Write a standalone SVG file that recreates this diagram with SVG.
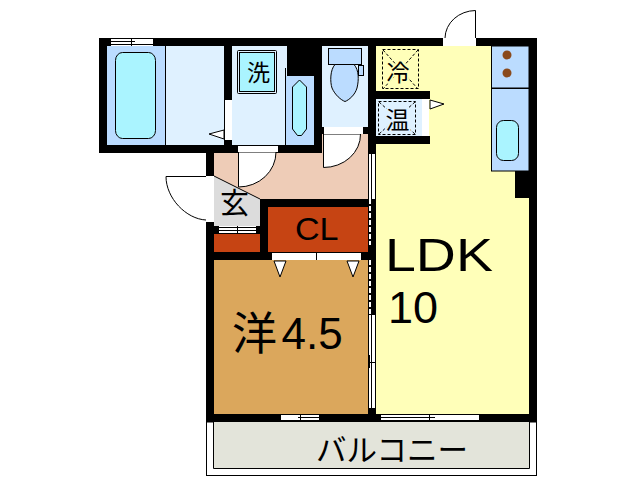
<svg xmlns="http://www.w3.org/2000/svg" width="638" height="480" viewBox="0 0 638 480">
<style>
.w{fill:#000}
.o{stroke:#000;stroke-width:1;fill:none}
.s{stroke:#000;stroke-width:1;fill:#fff}
.win{fill:#fff;stroke:none}
.d{stroke:#000;stroke-width:1;stroke-dasharray:3 2;fill:none}
text{font-family:"Liberation Sans","Noto Sans CJK JP",sans-serif;fill:#000}
.j{font-family:"Noto Sans CJK JP","Liberation Sans",sans-serif}
.lb{fill:#bbdcff}
.lc{fill:#dff1ff}
.cy{fill:#aaf4ff;stroke:#000;stroke-width:1}
</style>
<rect width="638" height="480" fill="#fff"/>
<g id="balcony">
<rect x="206.500" y="422" width="330" height="53.500" fill="#fff" stroke="#000"/>
<rect x="213" y="422" width="316" height="46" fill="#e3e4da"/>
<path class="o" d="M213.500 422V468.500H529.500V422"/>
<text class="j" x="392" y="461" font-size="30.500" text-anchor="middle">バルコニー</text>
</g>
<g id="ldk">
<rect x="376" y="46" width="153" height="368" fill="#ffffb9"/>
<text transform="translate(385 271) scale(1.18 1)" font-size="47">LDK</text>
<text x="388" y="323" font-size="45">10</text>
</g>
<g id="western-room">
<rect x="214" y="260" width="154" height="154" fill="#dba75c"/>
<text class="j" x="232" y="350" font-size="45">洋</text>
<text x="281.500" y="349" font-size="44">4.5</text>
</g>
<g id="hall">
<rect x="214" y="153" width="108" height="46" fill="#eeccb7"/>
<rect x="322" y="134" width="46" height="65" fill="#eeccb7"/>
</g>
<g id="closet">
<rect x="268" y="207" width="100" height="45" fill="#c64413"/>
<rect x="214" y="234" width="46" height="18" fill="#c64413"/>
<text transform="translate(295 240) scale(1.1 1)" font-size="31">CL</text>
</g>
<g id="entrance">
<polygon points="214,176 260,199 260,226 214,226" fill="#dcdcdc"/>
<path class="o" d="M214 176L260 199"/>
</g>
<g id="bath">
<rect x="107" y="46" width="58" height="99" class="lb"/>
<rect x="165" y="46" width="59" height="99" class="lc"/>
<path class="o" d="M165.500 46V145"/>
<rect x="115.500" y="52.500" width="40" height="86" rx="7" ry="8" class="cy"/>
<polygon points="224,130 209,134 224,139" class="s"/>
</g>
<g id="washroom">
<rect x="232" y="46" width="55" height="99" class="lc"/>
<rect x="286" y="76" width="28" height="69" class="lb"/>
<path class="o" d="M285.500 68V145"/>
<path d="M292.500 87L299.500 80L306.500 87V129L301.500 135.500H297.500L292.500 129Z" class="cy"/>
<rect x="237.500" y="50.500" width="39" height="43" rx="1" class="o"/>
<rect x="239.500" y="52.500" width="35" height="39" fill="#aaf4ff" stroke="#000"/>
<text class="j" x="258.500" y="81" font-size="23" text-anchor="middle">洗</text>
</g>
<g id="toilet">
<rect x="322" y="46" width="46" height="81" class="lc"/>
<rect x="328.500" y="48.500" width="33" height="16" class="lb" stroke="#000"/>
<path d="M335 64.500C330 70 330 82 332 88C335 95 341 100 345 101.500C349 100 355 95 357 88C359 80 359 70 354 64.500Z" class="lb" stroke="#000"/>
<rect x="358.500" y="65.500" width="5" height="10" class="lb" stroke="#000"/>
</g>
<g id="fridge">
<rect class="d" x="382.500" y="49.500" width="36" height="39"/>
<path class="d" d="M383 50L418 89M418 50L383 89"/>
<text class="j" x="398" y="81" font-size="23" text-anchor="middle" style="paint-order:stroke" stroke="#ffffb9" stroke-width="4">冷</text>
</g>
<g id="water-heater">
<rect x="376" y="99" width="46" height="37" class="lc"/>
<rect class="d" x="378.500" y="101.500" width="37" height="33"/>
<path class="d" d="M379 102L415 134M415 102L379 134"/>
<text class="j" x="397.500" y="129" font-size="24" text-anchor="middle" style="paint-order:stroke" stroke="#dff1ff" stroke-width="4">温</text>
</g>
<g id="kitchen">
<rect x="491.500" y="46" width="37.500" height="42" class="lb" stroke="#000"/>
<rect x="491.500" y="88.500" width="37.500" height="82.500" class="lb" stroke="#000"/>
<circle cx="507" cy="55" r="4.500" fill="#8a4a1c"/>
<circle cx="507" cy="73" r="4.500" fill="#8a4a1c"/>
<rect x="496.500" y="120.500" width="22" height="40" rx="7" class="cy"/>
</g>
<g id="walls">
<rect class="w" x="99" y="38" width="438" height="8"/>
<rect class="w" x="99" y="38" width="8" height="115"/>
<rect class="w" x="99" y="145" width="223" height="8"/>
<rect class="w" x="224" y="46" width="8" height="107"/>
<rect class="w" x="287" y="46" width="35" height="30"/>
<rect class="w" x="314" y="46" width="8" height="107"/>
<rect class="w" x="322" y="127" width="46" height="7"/>
<rect class="w" x="368" y="46" width="8" height="368"/>
<rect class="w" x="376" y="91" width="54" height="8"/>
<rect class="w" x="376" y="136" width="54" height="8"/>
<rect class="w" x="529" y="38" width="8" height="384"/>
<rect class="w" x="515" y="171" width="14" height="27"/>
<rect class="w" x="206" y="153" width="8" height="269"/>
<rect class="w" x="260" y="199" width="108" height="8"/>
<rect class="w" x="260" y="199" width="8" height="61"/>
<rect class="w" x="214" y="226" width="46" height="8"/>
<rect class="w" x="214" y="252" width="162" height="8"/>
<rect class="w" x="206" y="414" width="331" height="8"/>
</g>
<g id="connectors">
<rect class="win" x="111" y="38" width="42" height="8"/>
<path class="o" d="M108 38.500H155M111 41.500H135M111 44.500H153M131.500 38V46"/>
<rect class="win" x="225" y="100" width="7" height="40"/>
<path d="M238.500 152V187A37.500 35 0 0 0 276 152Z" class="s"/>
<rect class="win" x="238" y="146" width="40" height="6"/>
<path d="M323.500 134V167.500A37 33 0 0 0 360.500 134Z" class="s"/>
<rect class="win" x="324" y="127" width="39" height="7"/>
<rect class="win" x="443" y="38" width="33" height="8"/>
<path class="o" d="M475.500 38V10.500A31 28 0 0 0 445 38"/>
<rect class="win" x="206" y="176" width="8" height="46"/>
<path class="o" d="M206 176.500H166C166 198 186 219 206 220"/>
<rect class="win" x="219" y="226" width="37" height="7"/>
<path class="o" d="M219 227.500H256M219 230.500H256M237.500 226V233"/>
<rect class="win" x="272" y="253" width="89" height="7"/>
<path class="o" d="M316.500 252V260"/>
<polygon points="274,261 286,261 280,277" class="s"/>
<polygon points="347,261 359,261 353,277" class="s"/>
<polygon points="430,100 444,104 430,109" class="s"/>
<rect class="win" x="422" y="99" width="7" height="37"/>
<rect class="win" x="369" y="154" width="6" height="45"/>
<path class="o" d="M371.500 154V199"/>
<path d="M370 199V245M370 260V315" stroke="#fff" stroke-width="2" stroke-dasharray="5 2" fill="none"/>
<rect class="win" x="369" y="315" width="6" height="93"/>
<path class="o" d="M371.500 315V408M369.500 355V368M369 362.500H375"/>
<rect class="win" x="281" y="414" width="38" height="7"/>
<path class="o" d="M281 414.500H319M298 417.500H319M281 420.500H319M300.500 414V421"/>
<rect class="win" x="381" y="414" width="98" height="7"/>
<path class="o" d="M381 414.500H479M381 417.500H435M381 420.500H479M429.500 414V421"/>
</g>
<g id="entrance-label">
<text class="j" x="234.500" y="214" font-size="29" text-anchor="middle">玄</text>
</g>
</svg>
